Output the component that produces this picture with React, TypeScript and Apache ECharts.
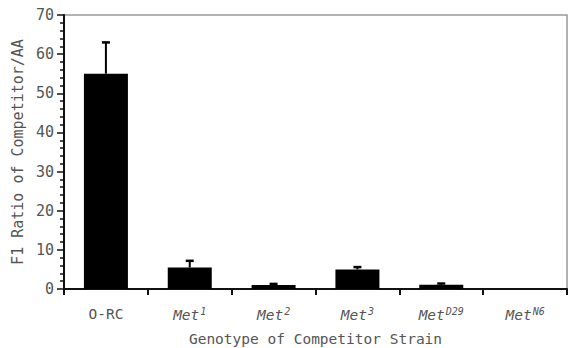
import React, { useEffect, useRef } from "react";
import * as echarts from "echarts";

const categories = ["O-RC", "Met1", "Met2", "Met3", "MetD29", "MetN6"];
const categoryLabels = [
  "{n|O-RC}",
  "{i|Met}{s|1}",
  "{i|Met}{s|2}",
  "{i|Met}{s|3}",
  "{i|Met}{s|D29}",
  "{i|Met}{s|N6}",
];
const ratioValues = [55, 5.5, 1.0, 5.0, 1.1, 0];
const errorValues = [8, 1.7, 0.3, 0.6, 0.3, 0];
const yTicks = [0, 10, 20, 30, 40, 50, 60, 70];

export default function App() {
  const ref = useRef<HTMLDivElement>(null);
  useEffect(() => {
    if (!ref.current) return;
    const chart = echarts.init(ref.current, null, { renderer: "svg" });
    const font = "DejaVu Sans Mono";
    const grey = "#555";
    chart.setOption({
      animation: false,
      textStyle: { fontFamily: font },
      grid: {
        left: 64, right: 2, top: 15, bottom: 59, containLabel: false,
        outerBoundsMode: "none",
        show: true, borderColor: "#999", borderWidth: 1.5, backgroundColor: "transparent",
      },
      xAxis: {
        type: "category",
        data: categories,
        axisLine: { lineStyle: { color: "#111", width: 2 } },
        axisTick: { show: true, length: 6, lineStyle: { color: "#111", width: 2 } },
        axisLabel: {
          margin: 17,
          interval: 0,
          formatter: (_v: string, i: number) => categoryLabels[i],
          rich: {
            n: { fontSize: 14.5, color: grey, fontFamily: font },
            i: { fontSize: 14.5, color: grey, fontStyle: "italic", fontFamily: font },
            s: { fontSize: 10, color: grey, fontStyle: "italic", fontFamily: font, verticalAlign: "top", padding: [0, 0, 8, 1] },
          },
        },
        name: "Genotype of Competitor Strain",
        nameLocation: "middle",
        nameGap: 42,
        nameTextStyle: { fontSize: 14.5, color: grey, fontFamily: font },
      },
      yAxis: {
        type: "value",
        min: 0,
        max: 70,
        interval: 10,
        axisLine: { show: true, lineStyle: { color: "#111", width: 2 } },
        axisTick: { show: true, length: 7, lineStyle: { color: "#111", width: 1.5 } },
        minorTick: { show: true, splitNumber: 5, length: 4, lineStyle: { color: "#111", width: 1.5 } },
        splitLine: { show: false },
        axisLabel: {
          margin: 10,
          fontSize: 15,
          color: grey,
          fontFamily: font,
          formatter: (v: number) => (yTicks.includes(v) ? String(v) : ""),
        },
        name: "F1 Ratio of Competitor/AA",
        nameLocation: "middle",
        nameGap: 38,
        nameTextStyle: { fontSize: 15, color: grey, fontFamily: font },
      },
      series: [
        {
          type: "bar",
          data: ratioValues,
          barWidth: 44,
          itemStyle: { color: "#000" },
        },
        {
          type: "custom",
          data: ratioValues.map((v, i) => [i, v, v + errorValues[i]]),
          renderItem: (params: any, api: any) => {
            const x = api.value(0);
            const lo = api.coord([x, api.value(1)]);
            const hi = api.coord([x, api.value(2)]);
            if (api.value(2) - api.value(1) <= 0) return { type: "group", children: [] };
            const cap = 4;
            const style = { stroke: "#000", lineWidth: 2 };
            return {
              type: "group",
              children: [
                { type: "line", shape: { x1: lo[0], y1: lo[1], x2: hi[0], y2: hi[1] }, style },
                { type: "line", shape: { x1: hi[0] - cap, y1: hi[1], x2: hi[0] + cap, y2: hi[1] }, style: { stroke: "#000", lineWidth: 2.5 } },
              ],
            };
          },
          z: 3,
        },
      ],
    });
    return () => chart.dispose();
  }, []);
  return <div ref={ref} style={{ width: 569, height: 348, position: "absolute", left: 0, top: 0 }} />;
}
